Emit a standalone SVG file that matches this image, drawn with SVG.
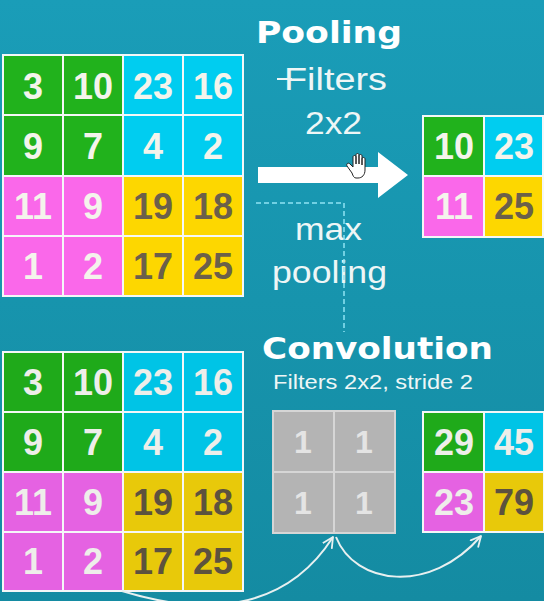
<svg xmlns="http://www.w3.org/2000/svg" width="544" height="601" viewBox="0 0 544 601">
<defs>
<linearGradient id="bg" x1="0" y1="0" x2="0" y2="1">
<stop offset="0" stop-color="#1a9db8"/>
<stop offset="1" stop-color="#148ba2"/>
</linearGradient>
<marker id="vh" viewBox="0 0 12 12" refX="11" refY="6" markerWidth="12" markerHeight="12" markerUnits="userSpaceOnUse" orient="auto">
<polyline points="1,1 11,6 1,11" fill="none" stroke="#e8f0f0" stroke-width="1.8" stroke-linecap="round" stroke-linejoin="round"/>
</marker>
<style>
.g{fill:#21b21c}.c{fill:#00cdf0}.m{fill:#fa68ea}.y{fill:#fdd700}
.g2{fill:#1faa1a}.c2{fill:#00c4e6}.m2{fill:#e562e2}.y2{fill:#e8c90a}
.gr{fill:#b4b4b4}
.cell{stroke:#f4f7f7;stroke-width:2}
.grc{stroke:#d6d6d6;stroke-width:2}
.n{font-family:"Liberation Sans",Arial,sans-serif;font-weight:bold;font-size:36px;text-anchor:middle;fill:#f4f4ec}
.nd{fill:#6b604a}
.n2{fill:#eeeeea}
.nd2{fill:#5d523e}
.ng{font-family:"Liberation Sans",Arial,sans-serif;font-weight:bold;font-size:32px;text-anchor:middle;fill:#e4e4e4}
.t{font-family:"DejaVu Sans","Liberation Sans",sans-serif;font-weight:bold;fill:#ffffff}
.l{font-family:"Liberation Sans",Arial,sans-serif;fill:#eef6f6}
.conn{fill:none;stroke:#e8f0f0;stroke-width:2}
.dash{fill:none;stroke:#8fe4f4;stroke-width:1.5;stroke-dasharray:5 3}
</style>
</defs>
<rect width="544" height="601" fill="url(#bg)"/>

<g id="input-pool">
<rect class="cell g" x="3" y="55" width="60" height="60"/>
<rect class="cell g" x="63" y="55" width="60" height="60"/>
<rect class="cell c" x="123" y="55" width="60" height="60"/>
<rect class="cell c" x="183" y="55" width="60" height="60"/>
<rect class="cell g" x="3" y="115" width="60" height="61"/>
<rect class="cell g" x="63" y="115" width="60" height="61"/>
<rect class="cell c" x="123" y="115" width="60" height="61"/>
<rect class="cell c" x="183" y="115" width="60" height="61"/>
<rect class="cell m" x="3" y="176" width="60" height="60"/>
<rect class="cell m" x="63" y="176" width="60" height="60"/>
<rect class="cell y" x="123" y="176" width="60" height="60"/>
<rect class="cell y" x="183" y="176" width="60" height="60"/>
<rect class="cell m" x="3" y="236" width="60" height="60"/>
<rect class="cell m" x="63" y="236" width="60" height="60"/>
<rect class="cell y" x="123" y="236" width="60" height="60"/>
<rect class="cell y" x="183" y="236" width="60" height="60"/>
<text class="n" x="33" y="99">3</text>
<text class="n" x="93" y="99">10</text>
<text class="n" x="153" y="99">23</text>
<text class="n" x="213" y="99">16</text>
<text class="n" x="33" y="159">9</text>
<text class="n" x="93" y="159">7</text>
<text class="n" x="153" y="159">4</text>
<text class="n" x="213" y="159">2</text>
<text class="n" x="33" y="219">11</text>
<text class="n" x="93" y="219">9</text>
<text class="n nd" x="153" y="219">19</text>
<text class="n nd" x="213" y="219">18</text>
<text class="n" x="33" y="279">1</text>
<text class="n" x="93" y="279">2</text>
<text class="n nd" x="153" y="279">17</text>
<text class="n nd" x="213" y="279">25</text>
</g>

<g id="pool-output">
<rect class="cell g" x="423" y="116" width="61" height="60"/>
<rect class="cell c" x="484" y="116" width="59" height="60"/>
<rect class="cell m" x="423" y="176" width="61" height="61"/>
<rect class="cell y" x="484" y="176" width="59" height="61"/>
<text class="n" x="454" y="159">10</text>
<text class="n" x="514" y="159">23</text>
<text class="n" x="454" y="219">11</text>
<text class="n nd" x="514" y="219">25</text>
</g>

<g id="input-conv">
<rect class="cell g2" x="3" y="352" width="60" height="60"/>
<rect class="cell g2" x="63" y="352" width="60" height="60"/>
<rect class="cell c2" x="123" y="352" width="60" height="60"/>
<rect class="cell c2" x="183" y="352" width="60" height="60"/>
<rect class="cell g2" x="3" y="412" width="60" height="60"/>
<rect class="cell g2" x="63" y="412" width="60" height="60"/>
<rect class="cell c2" x="123" y="412" width="60" height="60"/>
<rect class="cell c2" x="183" y="412" width="60" height="60"/>
<rect class="cell m2" x="3" y="472" width="60" height="60"/>
<rect class="cell m2" x="63" y="472" width="60" height="60"/>
<rect class="cell y2" x="123" y="472" width="60" height="60"/>
<rect class="cell y2" x="183" y="472" width="60" height="60"/>
<rect class="cell m2" x="3" y="532" width="60" height="59"/>
<rect class="cell m2" x="63" y="532" width="60" height="59"/>
<rect class="cell y2" x="123" y="532" width="60" height="59"/>
<rect class="cell y2" x="183" y="532" width="60" height="59"/>
<text class="n n2" x="33" y="395">3</text>
<text class="n n2" x="93" y="395">10</text>
<text class="n n2" x="153" y="395">23</text>
<text class="n n2" x="213" y="395">16</text>
<text class="n n2" x="33" y="455">9</text>
<text class="n n2" x="93" y="455">7</text>
<text class="n n2" x="153" y="455">4</text>
<text class="n n2" x="213" y="455">2</text>
<text class="n n2" x="33" y="515">11</text>
<text class="n n2" x="93" y="515">9</text>
<text class="n nd2" x="153" y="515">19</text>
<text class="n nd2" x="213" y="515">18</text>
<text class="n n2" x="33" y="574">1</text>
<text class="n n2" x="93" y="574">2</text>
<text class="n nd2" x="153" y="574">17</text>
<text class="n nd2" x="213" y="574">25</text>
</g>

<g id="filter">
<rect class="grc gr" x="273" y="411" width="61" height="61"/>
<rect class="grc gr" x="334" y="411" width="61" height="61"/>
<rect class="grc gr" x="273" y="472" width="61" height="61"/>
<rect class="grc gr" x="334" y="472" width="61" height="61"/>
<text class="ng" x="303" y="453">1</text>
<text class="ng" x="364" y="453">1</text>
<text class="ng" x="303" y="514">1</text>
<text class="ng" x="364" y="514">1</text>
</g>

<g id="conv-output">
<rect class="cell g2" x="423" y="412" width="61" height="60"/>
<rect class="cell c2" x="484" y="412" width="60" height="60"/>
<rect class="cell m2" x="423" y="472" width="61" height="60"/>
<rect class="cell y2" x="484" y="472" width="60" height="60"/>
<text class="n n2" x="454" y="455">29</text>
<text class="n n2" x="514" y="455">45</text>
<text class="n n2" x="454" y="515">23</text>
<text class="n nd2" x="514" y="515">79</text>
</g>

<g id="labels">
<text class="t" x="256" y="43" font-size="30" textLength="146" lengthAdjust="spacingAndGlyphs">Pooling</text>
<text class="l" x="284" y="90" font-size="31" textLength="103" lengthAdjust="spacingAndGlyphs">Filters</text>
<line x1="277" y1="79" x2="292" y2="79" stroke="#eef6f6" stroke-width="2"/>
<text class="l" x="305" y="134" font-size="31" textLength="57" lengthAdjust="spacingAndGlyphs">2x2</text>
<text class="l" x="295" y="240" font-size="32" textLength="67" lengthAdjust="spacingAndGlyphs">max</text>
<text class="l" x="272" y="283" font-size="32" textLength="115" lengthAdjust="spacingAndGlyphs">pooling</text>
<text class="t" x="262" y="359" font-size="31" textLength="231" lengthAdjust="spacingAndGlyphs">Convolution</text>
<text class="l" x="273" y="389" font-size="20" textLength="200" lengthAdjust="spacingAndGlyphs">Filters 2x2, stride 2</text>
</g>

<g id="connectors">
<path d="M258,167 L378,167 L378,152 L408,175 L378,198 L378,183 L258,183 Z" fill="#ffffff"/>
<polyline class="dash" points="256,203 344,203 344,332"/>
<path class="conn" d="M122,591 C190,612 280,620 333,537" marker-end="url(#vh)"/>
<path class="conn" d="M336,537 C355,585 430,595 481,536" marker-end="url(#vh)"/>
</g>

<g id="cursor">
<path d="M352,173 L347,166 C346,164 348,162 350,164 L353,167 L353,157 C353,155 356,155 356,157 L356,164 L356,155 C356,153 359,153 359,155 L359,164 L359,156 C359,154 362,154 362,156 L362,165 L362,159 C362,157 365,157 365,159 L365,170 C365,175 362,178 358,178 L356,178 C354,178 353,176 352,173 Z" fill="#ffffff" stroke="#222" stroke-width="1"/>
</g>
</svg>
